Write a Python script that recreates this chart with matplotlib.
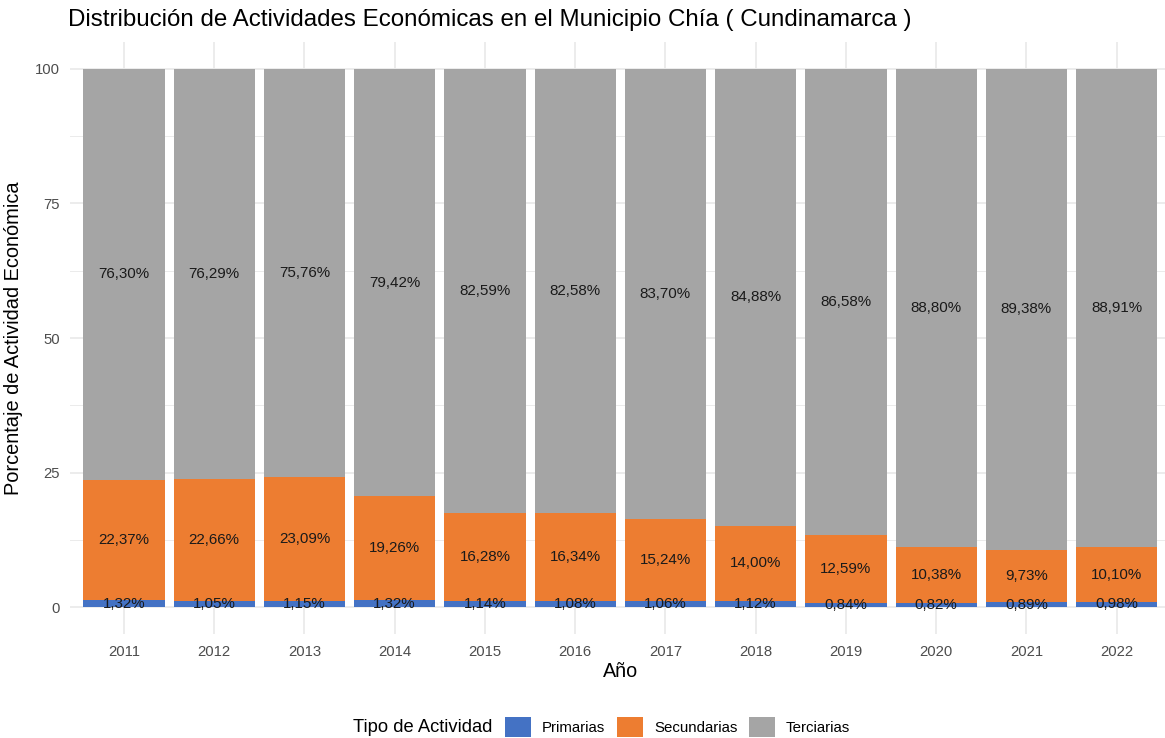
import matplotlib
matplotlib.use("Agg")
import matplotlib.pyplot as plt
from matplotlib.patches import Patch
import numpy as np

years = ["2011", "2012", "2013", "2014", "2015", "2016", "2017", "2018", "2019", "2020", "2021", "2022"]
primarias = [1.32, 1.05, 1.15, 1.32, 1.14, 1.08, 1.06, 1.12, 0.84, 0.82, 0.89, 0.98]
secundarias = [22.37, 22.66, 23.09, 19.26, 16.28, 16.34, 15.24, 14.00, 12.59, 10.38, 9.73, 10.10]
terciarias = [76.30, 76.29, 75.76, 79.42, 82.59, 82.58, 83.70, 84.88, 86.58, 88.80, 89.38, 88.91]
series_names = ["Primarias", "Secundarias", "Terciarias"]
colors = ["#4472C4", "#ED7D31", "#A5A5A5"]

plt.rcParams['font.family'] = ['Liberation Sans', 'DejaVu Sans']

W, H = 1165, 738
fig = plt.figure(figsize=(W / 100, H / 100), dpi=100)
ax = fig.add_axes([69.8 / W, 104 / H, 1101 / W, 592 / H])

x = np.arange(1, len(years) + 1)
bottom = np.zeros(len(years))
for vals, name, c in zip([primarias, secundarias, terciarias], series_names, colors):
    vals = np.array(vals)
    ax.bar(x, vals, width=0.9, bottom=bottom, color=c, label=name, zorder=2)
    for xi, b, v in zip(x, bottom, vals):
        ax.text(xi, b + v / 2, f"{v:.2f}%".replace(".", ","), ha="center", va="center",
                fontsize=10.9, color="#1a1a1a", zorder=3)
    bottom = bottom + vals

ax.set_xlim(0.4, 12.6)
ax.set_ylim(-5, 105)
ax.set_xticks(x)
ax.set_xticklabels(years)
ax.set_yticks([0, 25, 50, 75, 100])
ax.set_yticks([12.5, 37.5, 62.5, 87.5], minor=True)
ax.grid(True, which="major", color="#EBEBEB", linewidth=1.3, zorder=0)
ax.grid(True, which="minor", axis="y", color="#EBEBEB", linewidth=0.7, zorder=0)
ax.set_axisbelow(True)
for s in ax.spines.values():
    s.set_visible(False)
ax.tick_params(axis="both", which="both", length=0, labelsize=10.7, labelcolor="#4D4D4D")
ax.tick_params(axis="x", pad=8)
ax.tick_params(axis="y", pad=7)
ax.set_xlabel("Año", fontsize=14.2, labelpad=2, color="black")
ax.set_ylabel("Porcentaje de Actividad Económica", fontsize=14.4, labelpad=9, color="black")

fig.text(68 / W, 1 - 20 / H, "Distribución de Actividades Económicas en el Municipio Chía ( Cundinamarca )",
         fontsize=17.4, ha="left", va="center", color="black")

fig.text(353 / W, 1 - 727 / H, "Tipo de Actividad", fontsize=13.2, ha="left", va="center")
handles = [Patch(facecolor=c, edgecolor="none") for c in colors]
fig.legend(handles, series_names, loc="center left", bbox_to_anchor=(500 / W, 1 - 727 / H),
           ncol=3, frameon=False, fontsize=10.8, handlelength=1.75, handleheight=1.6,
           handletextpad=0.75, columnspacing=0.75, borderaxespad=0, borderpad=0.3)

fig.savefig("out.png", dpi=100)
